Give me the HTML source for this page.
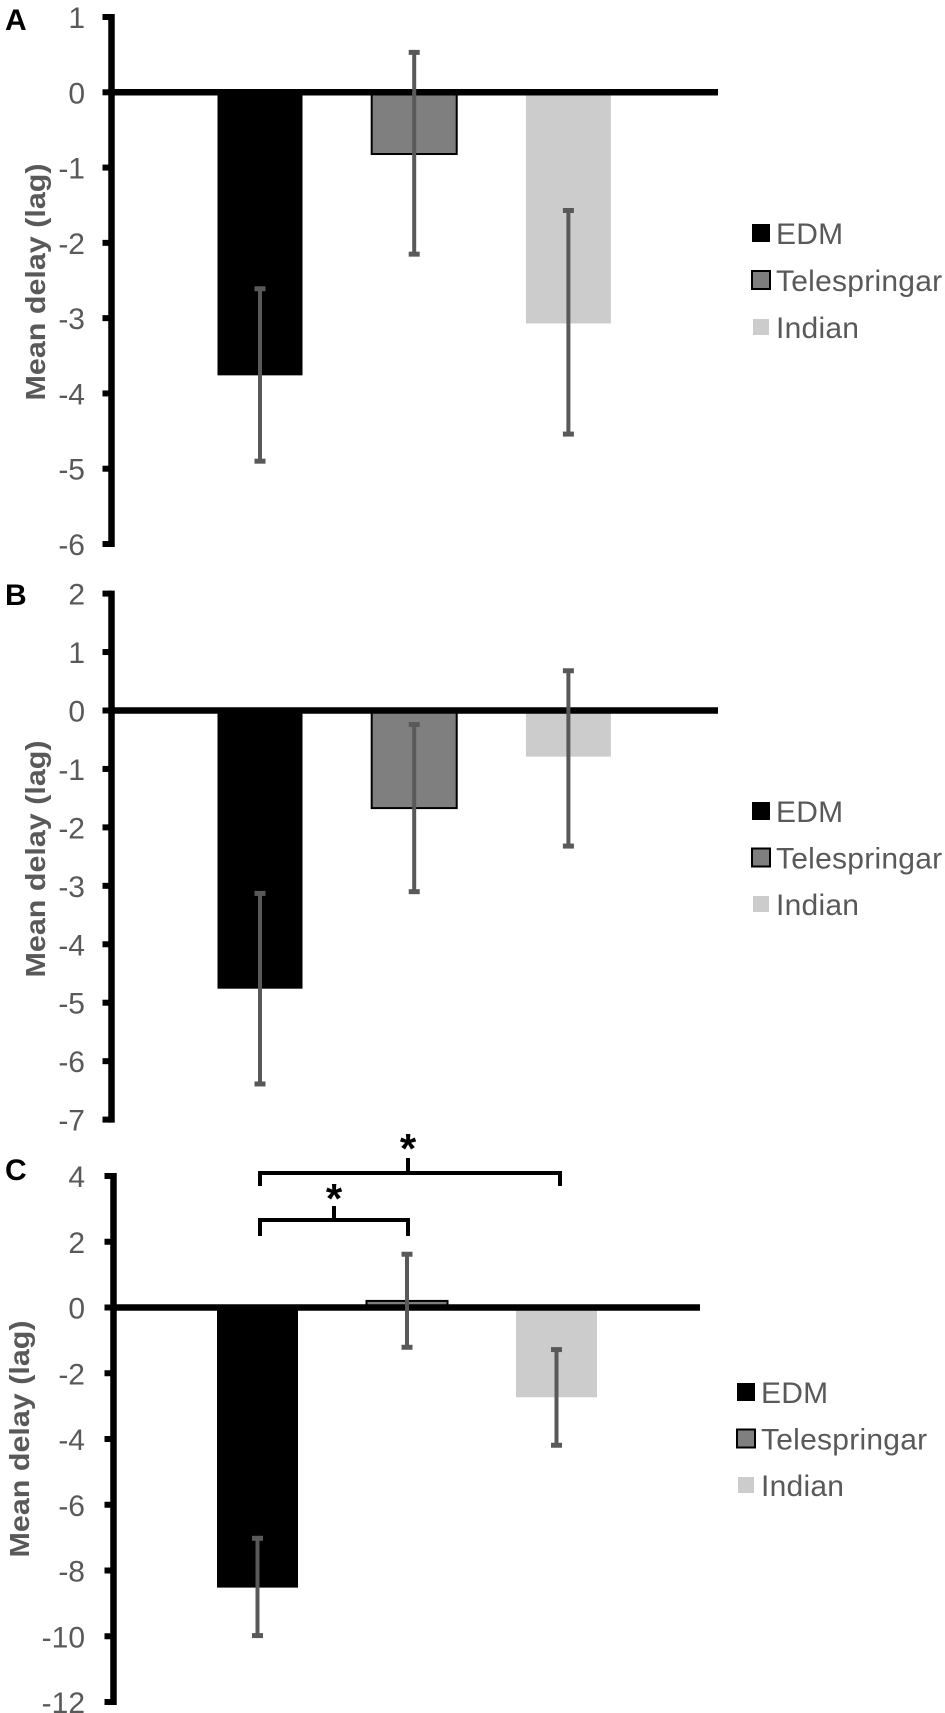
<!DOCTYPE html>
<html lang="en">
<head>
<meta charset="utf-8">
<title>Mean delay (lag) by group</title>
<style>
html,body{margin:0;padding:0;background:#fff;width:945px;height:1713px;overflow:hidden}
svg{display:block}
text{font-family:"Liberation Sans",Arial,sans-serif}
</style>
</head>
<body>
<svg id="chart" xmlns="http://www.w3.org/2000/svg" width="945" height="1713" viewBox="0 0 945 1713"></svg>
<script>
const categories = ['EDM', 'Telespringar', 'Indian'];
const yTitle = 'Mean delay (lag)';

const ticksA = [1, 0, -1, -2, -3, -4, -5, -6];
const meansA = [-3.76, -0.82, -3.07];
const errTopA = [-2.61, 0.53, -1.57];
const errBottomA = [-4.9, -2.15, -4.54];

const ticksB = [2, 1, 0, -1, -2, -3, -4, -5, -6, -7];
const meansB = [-4.76, -1.67, -0.79];
const errTopB = [-3.13, -0.24, 0.68];
const errBottomB = [-6.39, -3.1, -2.32];

const ticksC = [4, 2, 0, -2, -4, -6, -8, -10, -12];
const meansC = [-8.52, 0.2, -2.73];
const errTopC = [-7.02, 1.62, -1.28];
const errBottomC = [-9.98, -1.21, -4.19];

const fills = ['#000000', '#7f7f7f', '#cccccc'];
const strokes = ['none', '#000000', 'none'];
const INK = '#595959';
const svg = document.getElementById('chart');

function mk(tag, attrs, parent, content) {
  const e = document.createElementNS('http://www.w3.org/2000/svg', tag);
  for (const k in attrs) e.setAttribute(k, attrs[k]);
  if (content !== undefined) e.textContent = content;
  (parent || svg).appendChild(e);
  return e;
}

function drawPanel(p) {
  const group = mk('g', {});
  
  

  const yMax = Math.max(...p.ticks);
  const yMin = Math.min(...p.ticks);
  const y = v => p.top + (yMax - v) / (yMax - yMin) * (p.bottom - p.top);
  const x = i => p.firstCenter + i * p.step;

  const letter = mk('text', {x: p.letterX, y: p.letterY, 'font-size': 30, 'font-weight': 'bold', fill: '#000'}, group, p.letter);
  
  

  const title = mk('text', {
    x: 0, y: 0, 'font-size': 28, 'font-weight': 'bold', fill: INK, 'text-anchor': 'middle',
    textLength: 237, lengthAdjust: 'spacingAndGlyphs',
    transform: 'translate(' + p.titleX + ' ' + p.titleY + ') rotate(-90)'
  }, group, yTitle);
  
  

  categories.forEach((c, i) => {
    const v = p.means[i];
    const bar = mk('rect', {
      x: x(i) - p.barW / 2, y: Math.min(y(v), y(0)), width: p.barW,
      height: Math.abs(y(v) - y(0)), fill: fills[i],
      stroke: strokes[i], 'stroke-width': strokes[i] === 'none' ? 0 : 2
    }, group);
    
    
  });

  const axis = mk('line', {x1: p.axisX, x2: p.axisX, y1: y(yMax) - 3, y2: y(yMin) + 3, stroke: '#000', 'stroke-width': 6.5}, group);
  
  

  p.ticks.forEach(t => {
    const tick = mk('line', {x1: p.axisX - 9, x2: p.axisX, y1: y(t), y2: y(t), stroke: '#000', 'stroke-width': 6}, group);
    
    

    const label = mk('text', {x: 85, y: y(t) + 11, 'font-size': 30, fill: INK, 'text-anchor': 'end'}, group, String(t));
    
    
  });

  const zero = mk('line', {x1: p.axisX, x2: p.zeroEnd, y1: y(0), y2: y(0), stroke: '#000', 'stroke-width': 6.5}, group);
  
  

  categories.forEach((c, i) => {
    const cx = x(i);
    const stem = mk('line', {x1: cx, x2: cx, y1: y(p.errTop[i]), y2: y(p.errBottom[i]), stroke: INK, 'stroke-width': 4}, group);
    
    

    const capTop = mk('line', {x1: cx - 5.5, x2: cx + 5.5, y1: y(p.errTop[i]), y2: y(p.errTop[i]), stroke: INK, 'stroke-width': 5}, group);
    
    

    const capBottom = mk('line', {x1: cx - 5.5, x2: cx + 5.5, y1: y(p.errBottom[i]), y2: y(p.errBottom[i]), stroke: INK, 'stroke-width': 5}, group);
    
    
  });

  categories.forEach((c, i) => {
    const my = p.legendY + i * p.legendGap;
    const size = i === 2 ? 16 : 18;
    const sw = mk('rect', {
      x: p.legendX + (18 - size) / 2, y: my - size / 2, width: size, height: size,
      fill: fills[i], stroke: i === 1 ? '#000' : 'none', 'stroke-width': i === 1 ? 2 : 0
    }, group);
    
    

    const txt = mk('text', {x: p.legendX + 24, y: my + 11, 'font-size': 30, 'letter-spacing': 0.25, fill: INK}, group, c);
    
    
  });

  return group;
}

drawPanel({
  letter: 'A', ticks: ticksA, means: meansA, errTop: errTopA, errBottom: errBottomA,
  top: 17, bottom: 544, axisX: 111.5, zeroEnd: 718, firstCenter: 260, step: 154.2, barW: 85,
  letterX: 5, letterY: 30, titleX: 45, titleY: 282, legendX: 752, legendY: 233, legendGap: 47
});

drawPanel({
  letter: 'B', ticks: ticksB, means: meansB, errTop: errTopB, errBottom: errBottomB,
  top: 593.6, bottom: 1119.6, axisX: 111.5, zeroEnd: 718, firstCenter: 260, step: 154.2, barW: 85,
  letterX: 5, letterY: 605, titleX: 45, titleY: 859, legendX: 752, legendY: 811, legendGap: 46.5
});

const panelC = drawPanel({
  letter: 'C', ticks: ticksC, means: meansC, errTop: errTopC, errBottom: errBottomC,
  top: 1176, bottom: 1702, axisX: 113.5, zeroEnd: 700, firstCenter: 257.5, step: 149.5, barW: 81,
  letterX: 5, letterY: 1180, titleX: 29, titleY: 1439, legendX: 737, legendY: 1392, legendGap: 46.5
});

const upper = mk('path', {d: 'M260 1186V1173H560V1186M408 1173V1158', fill: 'none', stroke: '#000', 'stroke-width': 4}, panelC);



const upperStar = mk('text', {x: 408, y: 1163, 'font-size': 42, 'font-weight': 'bold', 'text-anchor': 'middle', fill: '#000'}, panelC, '*');



const lower = mk('path', {d: 'M260 1236V1220H408V1236M334 1220V1206', fill: 'none', stroke: '#000', 'stroke-width': 4}, panelC);



const lowerStar = mk('text', {x: 334, y: 1213, 'font-size': 42, 'font-weight': 'bold', 'text-anchor': 'middle', fill: '#000'}, panelC, '*');


</script>
</body>
</html>
